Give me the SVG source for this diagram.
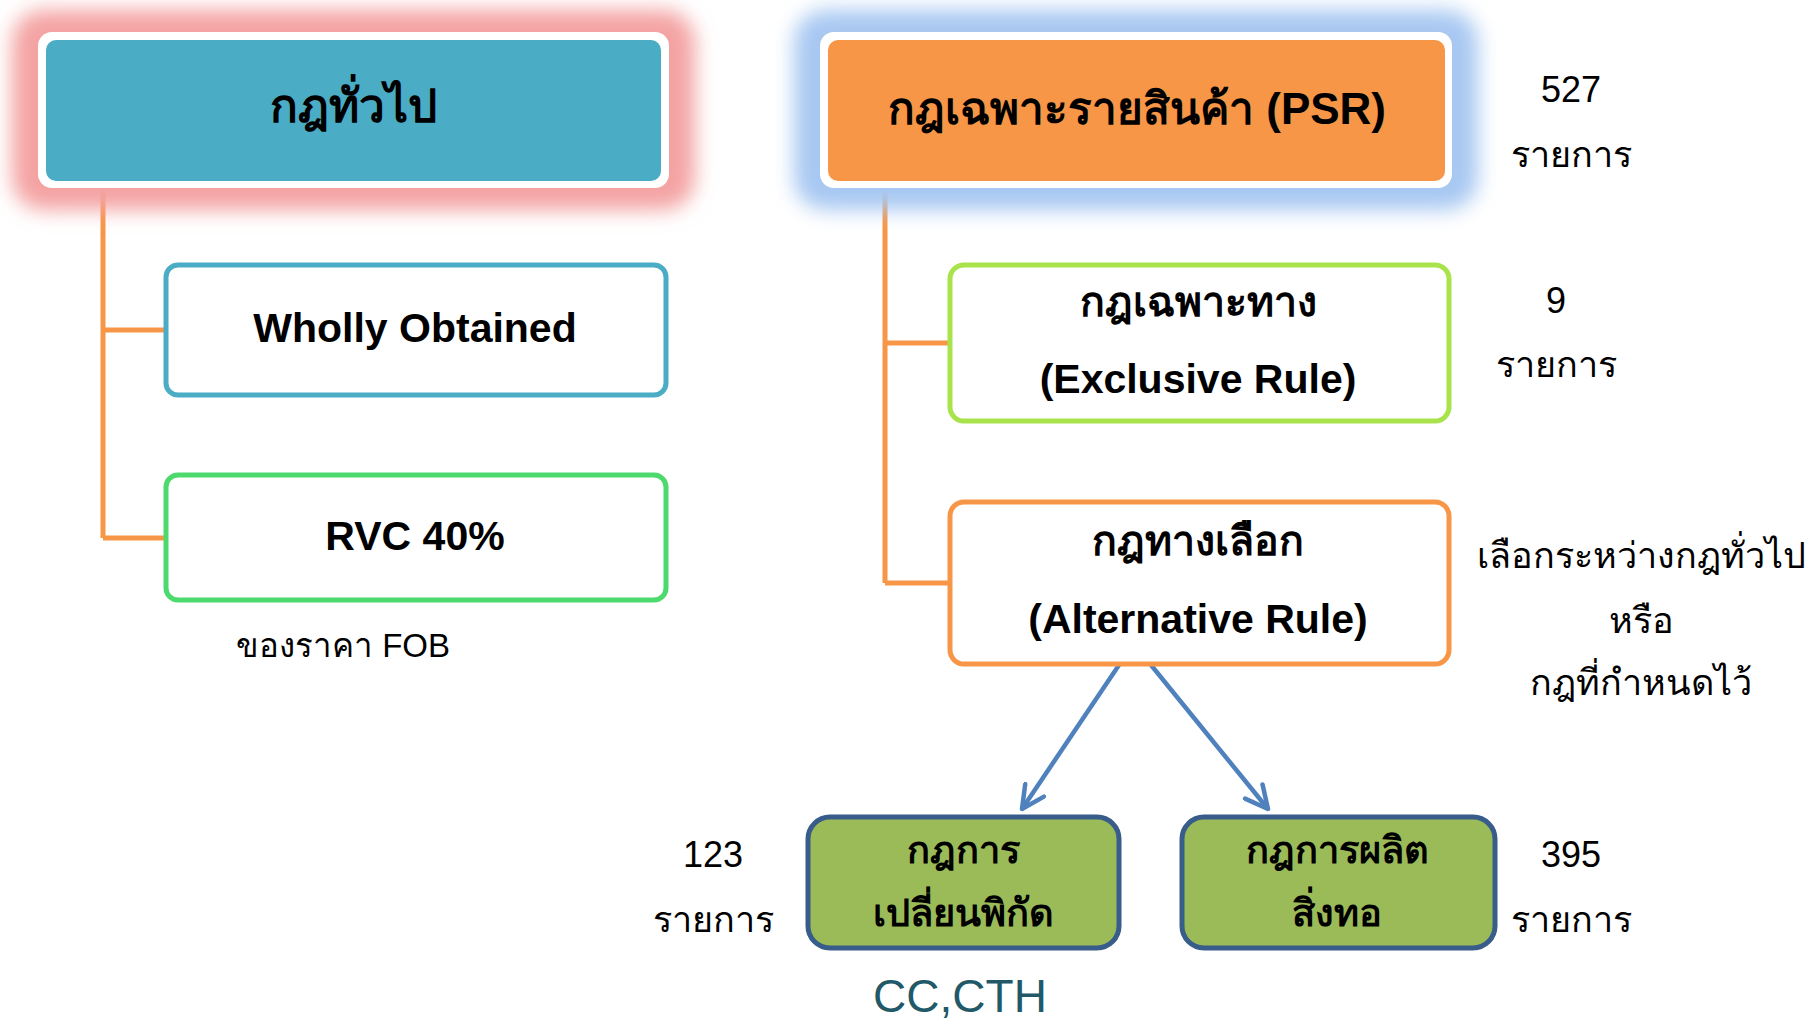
<svg xmlns="http://www.w3.org/2000/svg" width="1810" height="1021" viewBox="0 0 1810 1021">
<defs>
<filter id="glow" x="-20%" y="-40%" width="140%" height="180%"><feGaussianBlur stdDeviation="10"/></filter>
<marker id="arr" viewBox="0 0 12 12" refX="11" refY="6" markerWidth="6" markerHeight="6" orient="auto" markerUnits="strokeWidth">
<path d="M1,1 L11,6 L1,11" fill="none" stroke="#4F81BD" stroke-width="2" stroke-linecap="round" stroke-linejoin="round"/>
</marker>
<style>
.th{font-family:"Liberation Sans","Noto Sans",sans-serif;}
.b{font-weight:bold;fill:#000;}
.t{fill:#000;text-anchor:middle;}
.lbl{font-size:36px;font-weight:normal;}
.big{font-size:46px;}
.mid{font-size:41px;}
.conn{fill:none;stroke:#F79646;stroke-width:5;}
.arrow{fill:none;stroke:#4F81BD;stroke-width:4.5;marker-end:url(#arr);}
</style>
</defs>
<rect width="1810" height="1021" fill="#fff"/>
<g id="connectors">
<path class="conn" d="M103,187 V538 M103,330 H165 M103,538 H165"/>
<path class="conn" d="M885,187 V583 M885,343 H949 M885,583 H949"/>
<path class="arrow" d="M1119,665 L1022,809"/>
<path class="arrow" d="M1151,665 L1268,809"/>
</g>
<g id="general">
<rect x="12" y="10" width="683" height="200" rx="32" fill="#F4A3A3" filter="url(#glow)"/>
<rect x="38" y="32" width="631" height="156" rx="14" fill="#fff"/>
<rect x="46" y="40" width="615" height="141" rx="10" fill="#4BACC6"/>
<text class="th b t big" x="353" y="122">กฎทั่วไป</text>
</g>
<g id="psr">
<rect x="794" y="10" width="684" height="200" rx="32" fill="#A7C8F2" filter="url(#glow)"/>
<rect x="820" y="32" width="632" height="156" rx="14" fill="#fff"/>
<rect x="828" y="40" width="617" height="141" rx="10" fill="#F79646"/>
<text class="th b t" font-size="44" x="1137" y="124">กฎเฉพาะรายสินค้า (PSR)</text>
</g>
<g id="wholly">
<rect x="166" y="265" width="500" height="130" rx="12" fill="#fff" stroke="#4BACC6" stroke-width="5"/>
<text class="th b t mid" x="415" y="342">Wholly Obtained</text>
</g>
<g id="rvc">
<rect x="166" y="475" width="500" height="125" rx="12" fill="#fff" stroke="#4CD96E" stroke-width="5"/>
<text class="th b t mid" x="415" y="550">RVC 40%</text>
<text class="th t" font-size="33" x="343" y="657">ของราคา FOB</text>
</g>
<g id="exclusive">
<rect x="950" y="265" width="499" height="156" rx="14" fill="#fff" stroke="#A9E34B" stroke-width="5"/>
<text class="th b t mid" x="1198" y="316">กฎเฉพาะทาง</text>
<text class="th b t mid" x="1198" y="393">(Exclusive Rule)</text>
</g>
<g id="alternative">
<rect x="950" y="502" width="499" height="162" rx="14" fill="#fff" stroke="#F79646" stroke-width="5"/>
<text class="th b t mid" x="1198" y="555">กฎทางเลือก</text>
<text class="th b t mid" x="1198" y="633">(Alternative Rule)</text>
</g>
<g id="cth">
<rect x="808" y="817" width="311" height="131" rx="22" fill="#9BBB59" stroke="#385D8A" stroke-width="5"/>
<text class="th b t" font-size="38" x="963" y="863">กฎการ</text>
<text class="th b t" font-size="38" x="963" y="926">เปลี่ยนพิกัด</text>
</g>
<g id="textile">
<rect x="1182" y="817" width="313" height="131" rx="22" fill="#9BBB59" stroke="#385D8A" stroke-width="5"/>
<text class="th b t" font-size="38" x="1337" y="863">กฎการผลิต</text>
<text class="th b t" font-size="38" x="1337" y="926">สิ่งทอ</text>
</g>
<g id="labels">
<text class="th t lbl" x="1571" y="102">527</text>
<text class="th t lbl" x="1571" y="167">รายการ</text>
<text class="th t lbl" x="1556" y="313">9</text>
<text class="th t lbl" x="1556" y="377">รายการ</text>
<text class="th t lbl" x="1641" y="568">เลือกระหว่างกฎทั่วไป</text>
<text class="th t lbl" x="1641" y="633">หรือ</text>
<text class="th t lbl" x="1641" y="695">กฎที่กำหนดไว้</text>
<text class="th t lbl" x="713" y="867">123</text>
<text class="th t lbl" x="713" y="932">รายการ</text>
<text class="th t lbl" x="1571" y="867">395</text>
<text class="th t lbl" x="1571" y="932">รายการ</text>
<text class="th t" font-size="46" style="fill:#215968" x="960" y="1012">CC,CTH</text>
</g>
</svg>
